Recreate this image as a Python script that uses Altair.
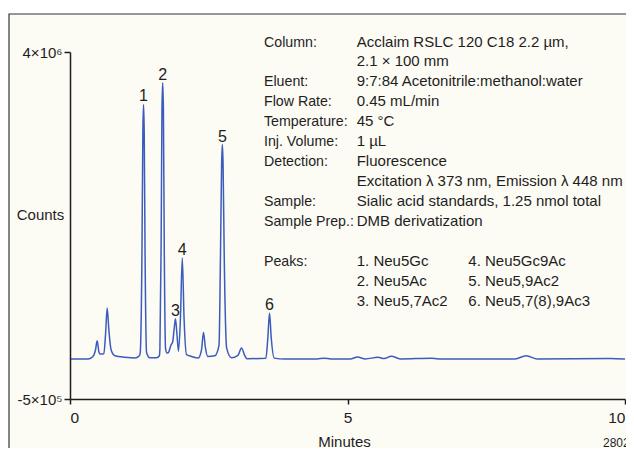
import altair as alt
import pandas as pd

# ---- data (minutes, counts) ----
retention_time = [
    0.00, 0.32, 0.41, 0.46, 0.49, 0.52, 0.54, 0.61, 0.64, 0.67, 0.70, 0.74, 0.81, 0.99,
    1.17, 1.25, 1.265, 1.297, 1.313, 1.325, 1.337, 1.352, 1.38, 1.44, 1.56, 1.61,
    1.62, 1.642, 1.657, 1.670, 1.683, 1.698, 1.722, 1.748, 1.77, 1.82, 1.85, 1.875,
    1.90, 1.928, 1.955, 1.99, 2.023, 2.055, 2.10, 2.19, 2.31, 2.37, 2.405, 2.44, 2.48,
    2.61, 2.685, 2.712, 2.732, 2.745, 2.758, 2.778, 2.823, 2.91, 3.03, 3.09, 3.15, 3.19,
    3.53, 3.565, 3.595, 3.625, 3.68, 3.87, 4.45, 4.58, 4.70, 5.05, 5.18, 5.32, 5.55,
    5.66, 5.79, 5.95, 6.52, 6.70, 8.00, 8.22, 8.42, 9.73, 10.00,
]
counts = [
    18000, 18000, 48000, 139000, 255000, 113000, 83000, 87000, 333000, 679000, 400000,
    139000, 61000, 41000,
    31000, 61000, 100000, 1430000, 2980000, 3320000, 2980000, 1430000, 100000, 35000,
    35000, 61000,
    150000, 1500000, 3250000, 3600000, 3250000, 1500000, 150000, 96000, 100000, 200000,
    240000, 400000,
    540000, 330000, 120000, 550000, 1330000, 550000, 74000, 52000, 31000, 140000, 363000,
    165000, 52000,
    61000, 200000, 1400000, 2550000, 2800000, 2550000, 1400000, 160000, 35000, 70000,
    161000, 61000, 22000,
    30000, 300000, 614000, 300000, 30000, 18000, 18000, 30000, 18000, 18000, 45000,
    20000, 40000,
    25000, 55000, 20000, 28000, 18000, 18000, 60000, 18000, 25000, 18000,
]

peak_labels = ["1", "2", "3", "4", "5", "6"]
peak_times = [1.325, 1.670, 1.90, 2.023, 2.745, 3.595]
peak_heights = [3320000, 3600000, 540000, 1330000, 2800000, 614000]

x_ticks = [0, 5, 10]
y_ticks = [4000000, -500000]

info_labels = ["Column:", "", "Eluent:", "Flow Rate:", "Temperature:", "Inj. Volume:",
               "Detection:", "", "Sample:", "Sample Prep.:", "", "Peaks:"]
info_values = ["Acclaim RSLC 120 C18 2.2 µm,", "2.1 × 100 mm",
               "9:7:84 Acetonitrile:methanol:water", "0.45 mL/min", "45 °C", "1 µL",
               "Fluorescence", "Excitation λ 373 nm, Emission λ 448 nm",
               "Sialic acid standards, 1.25 nmol total", "DMB derivatization", "",
               "1. Neu5Gc", "2. Neu5Ac", "3. Neu5,7Ac2"]
peak_names_2 = ["", "", "", "", "", "", "", "", "", "", "",
                "4. Neu5Gc9Ac", "5. Neu5,9Ac2", "6. Neu5,7(8),9Ac3"]
figure_id = "28028"

FONT = "Liberation Sans, Arial, sans-serif"
BLUE = "#3b5cbd"
INK = "#1e1e1e"
CREAM = "#fcfbf4"

trace = pd.DataFrame({"time": retention_time, "counts": counts})
peaks = pd.DataFrame({"time": peak_times, "counts": peak_heights, "label": peak_labels})
one = pd.DataFrame({"k": [0]})

xs = alt.Scale(domain=[0, 10], nice=False, zero=False)
ys = alt.Scale(domain=[-500000, 4000000], nice=False, zero=False)

x_axis = alt.Axis(values=x_ticks, title="Minutes", labelFont=FONT, titleFont=FONT,
                  labelFontSize=15.5, titleFontSize=15, titleFontWeight="normal",
                  labelColor=INK, titleColor=INK, domainColor=INK, tickColor=INK,
                  domainWidth=1.5, tickWidth=1.5, tickSize=5, labelPadding=6,
                  grid=False, titleY=42, titleBaseline="middle", titleX=274,
                  zindex=1)
y_axis = alt.Axis(values=y_ticks, title="Counts", labelFont=FONT, titleFont=FONT,
                  labelFontSize=15, titleFontSize=15, titleFontWeight="normal",
                  labelColor=INK, titleColor=INK, domainColor=INK, tickColor=INK,
                  domainWidth=1.5, tickWidth=1.5, tickSize=6, labelPadding=2,
                  grid=False, titleAngle=0, titleX=-30, titleY=162,
                  titleAlign="center", titleBaseline="middle",
                  labelExpr="datum.value > 0 ? '4×10⁶' : '-5×10⁵'",
                  zindex=1)

frame = alt.Chart(one).mark_rect(fill=CREAM, stroke="#333333", strokeWidth=1.2).encode(
    x=alt.value(-61), x2=alt.value(700), y=alt.value(-38), y2=alt.value(600)
)

line = alt.Chart(trace).mark_line(color=BLUE, strokeWidth=1.5, interpolate="monotone").encode(
    x=alt.X("time:Q", scale=xs, axis=x_axis),
    y=alt.Y("counts:Q", scale=ys, axis=y_axis),
)

peak_text = alt.Chart(peaks).mark_text(font=FONT, fontSize=16, color=INK,
                                       baseline="alphabetic", dy=-3).encode(
    x=alt.X("time:Q", scale=xs), y=alt.Y("counts:Q", scale=ys), text="label:N"
)

# info block: one text mark per line (columns at fixed pixel offsets)
LH = 19.94
TOP = -5.5
layers = [frame, line, peak_text]
for col_x, fs, lines in ((194, 14.2, info_labels), (286.7, 15, info_values),
                         (398.3, 15, peak_names_2)):
    for row, txt in enumerate(lines):
        if not txt:
            continue
        layers.append(
            alt.Chart(one).mark_text(font=FONT, fontSize=fs, color=INK, align="left",
                                     baseline="alphabetic").encode(
                x=alt.value(col_x), y=alt.value(TOP + row * LH), text=alt.value(txt)
            )
        )

layers.append(
    alt.Chart(one).mark_text(font=FONT, fontSize=12, color=INK, align="left",
                             baseline="alphabetic").encode(
        x=alt.value(533), y=alt.value(395), text=alt.value(figure_id)
    )
)

chart = alt.layer(*layers).properties(
    width=555, height=347,
    autosize=alt.AutoSizeParams(type="none"),
    padding={"left": 62, "top": 44, "right": 1, "bottom": 49},
    background="white",
).configure_view(strokeWidth=0)

chart.save("out.html", embed_options={"renderer": "svg", "actions": False})
